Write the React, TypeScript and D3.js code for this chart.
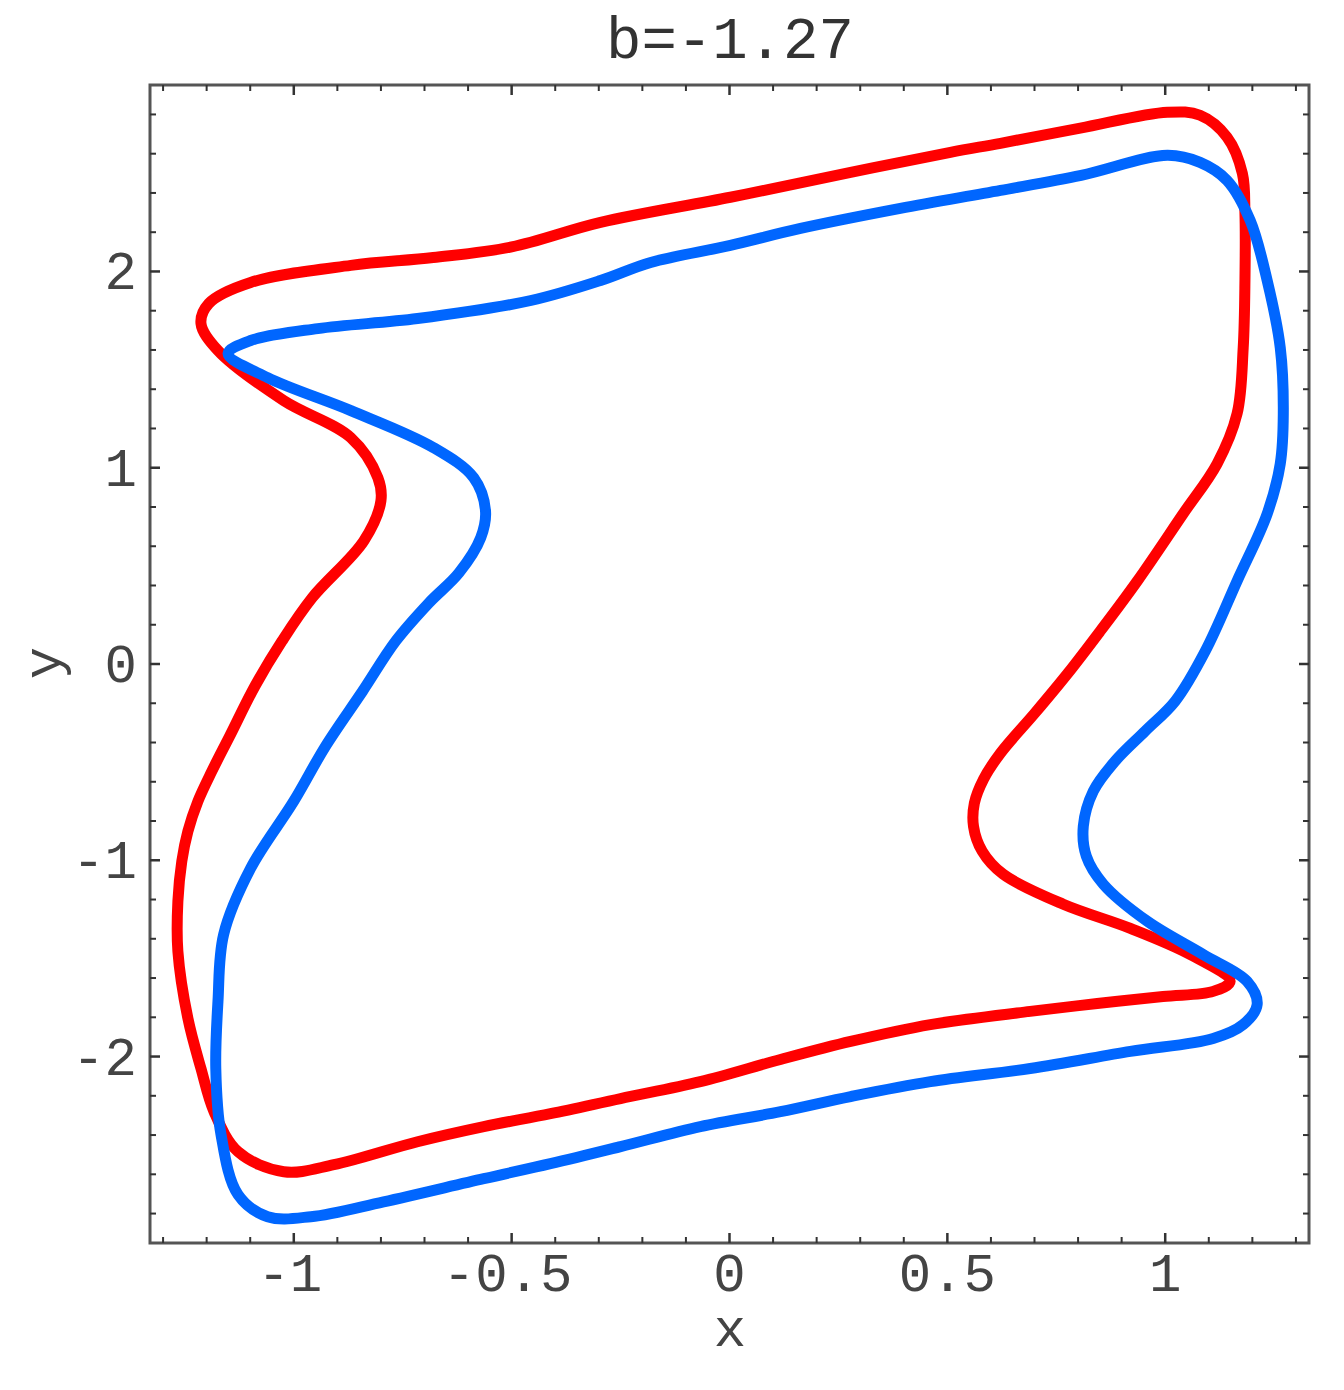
import React from "react";
import * as d3 from "d3";

const TITLE = "b=-1.27";
const X_MAJOR = [-1, -0.5, 0, 0.5, 1];
const X_LABELS = ["-1", "-0.5", "0", "0.5", "1"];
const Y_MAJOR = [-2, -1, 0, 1, 2];
const Y_LABELS = ["-2", "-1", "0", "1", "2"];

// red closed curve (data coordinates)
const redX = [-1.213,-1.195,-1.099,-0.869,-0.680,-0.500,-0.296,0.002,0.278,0.507,0.622,0.805,1.005,1.080,1.142,1.177,1.183,1.183,1.179,1.165,1.119,1.041,0.936,0.851,0.777,0.701,0.622,0.583,0.562,0.560,0.580,0.628,0.766,0.920,1.057,1.149,1.110,0.995,0.844,0.690,0.461,0.278,0.117,-0.067,-0.250,-0.411,-0.564,-0.716,-0.908,-1.023,-1.128,-1.183,-1.213,-1.243,-1.266,-1.266,-1.257,-1.243,-1.220,-1.188,-1.147,-1.089,-1.027,-0.958,-0.839,-0.800,-0.807,-0.869,-1.023,-1.174];
const redY = [1.735,1.837,1.944,2.031,2.071,2.125,2.250,2.378,2.505,2.607,2.653,2.730,2.811,2.796,2.684,2.500,2.296,1.954,1.612,1.276,1.020,0.765,0.423,0.168,-0.046,-0.250,-0.454,-0.587,-0.709,-0.827,-0.954,-1.071,-1.224,-1.347,-1.480,-1.617,-1.668,-1.694,-1.730,-1.770,-1.837,-1.923,-2.015,-2.128,-2.214,-2.291,-2.357,-2.434,-2.551,-2.587,-2.485,-2.281,-2.061,-1.806,-1.464,-1.209,-1.005,-0.852,-0.699,-0.546,-0.367,-0.112,0.117,0.337,0.628,0.832,0.949,1.153,1.342,1.597];

// blue closed curve (data coordinates)
const blueX = [-1.151,-1.099,-0.945,-0.716,-0.456,-0.296,-0.181,0.002,0.163,0.392,0.622,0.807,1.005,1.080,1.142,1.195,1.234,1.264,1.271,1.264,1.234,1.165,1.092,1.023,0.954,0.885,0.835,0.812,0.819,0.858,0.959,1.087,1.188,1.211,1.179,1.110,0.920,0.690,0.461,0.278,0.117,-0.067,-0.250,-0.411,-0.564,-0.794,-0.961,-1.060,-1.128,-1.167,-1.179,-1.174,-1.161,-1.099,-1.000,-0.927,-0.842,-0.766,-0.690,-0.621,-0.571,-0.560,-0.587,-0.679,-0.869,-1.060];
const blueY = [1.582,1.648,1.709,1.760,1.852,1.954,2.046,2.133,2.219,2.321,2.413,2.490,2.592,2.556,2.464,2.260,1.954,1.612,1.276,1.020,0.765,0.423,0.066,-0.189,-0.342,-0.495,-0.648,-0.827,-0.980,-1.122,-1.311,-1.480,-1.617,-1.735,-1.837,-1.908,-1.974,-2.061,-2.128,-2.204,-2.281,-2.357,-2.459,-2.546,-2.622,-2.740,-2.816,-2.816,-2.704,-2.398,-2.061,-1.719,-1.378,-1.041,-0.699,-0.418,-0.138,0.117,0.311,0.464,0.643,0.781,0.949,1.102,1.291,1.459];

const W = 1344;
const H = 1390;
const L = 150, R = 1309, T = 85, B = 1243;

export default function App() {
  const x = d3.scaleLinear().domain([-1.33, 1.33]).range([L, R]);
  const y = d3.scaleLinear().domain([-2.95, 2.95]).range([B, T]);

  const mk = (xs: number[], ys: number[]) =>
    d3
      .line<[number, number]>()
      .x((d) => x(d[0]))
      .y((d) => y(d[1]))
      .curve(d3.curveCatmullRomClosed.alpha(0.5))(xs.map((v, i) => [v, ys[i]] as [number, number])) || "";

  const redPath = mk(redX, redY);
  const bluePath = mk(blueX, blueY);

  const xMinor = d3.range(-13, 14).map((k) => k / 10).filter((v) => Math.abs(v * 2 - Math.round(v * 2)) > 1e-6);
  const yMinor = d3.range(-14, 15).map((k) => k / 5).filter((v) => Math.abs(v - Math.round(v)) > 1e-6);

  const font = "'Liberation Mono', 'DejaVu Sans Mono', monospace";
  const tickColor = "#333";
  const MAJ = 10, MIN = 6;

  return (
    <svg width={W} height={H} style={{ position: "absolute", left: 0, top: 0, background: "#fff" }}>
      <rect x={0} y={0} width={W} height={H} fill="#fff" />
      <text x={730} y={58} textAnchor="middle" fontFamily={font} fontSize={59} fill="#333">{TITLE}</text>

      <path d={redPath} fill="none" stroke="#ff0000" strokeWidth={11} strokeLinejoin="round" />
      <path d={bluePath} fill="none" stroke="#0066ff" strokeWidth={11} strokeLinejoin="round" />

      <rect x={L} y={T} width={R - L} height={B - T} fill="none" stroke="#555" strokeWidth={3} />

      {X_MAJOR.map((v) => (
        <g key={"xm" + v}>
          <line x1={x(v)} x2={x(v)} y1={B} y2={B - MAJ} stroke={tickColor} strokeWidth={2.5} />
          <line x1={x(v)} x2={x(v)} y1={T} y2={T + MAJ} stroke={tickColor} strokeWidth={2.5} />
        </g>
      ))}
      {xMinor.map((v) => (
        <g key={"xn" + v}>
          <line x1={x(v)} x2={x(v)} y1={B} y2={B - MIN} stroke={tickColor} strokeWidth={2} />
          <line x1={x(v)} x2={x(v)} y1={T} y2={T + MIN} stroke={tickColor} strokeWidth={2} />
        </g>
      ))}
      {Y_MAJOR.map((v) => (
        <g key={"ym" + v}>
          <line y1={y(v)} y2={y(v)} x1={L} x2={L + MAJ} stroke={tickColor} strokeWidth={2.5} />
          <line y1={y(v)} y2={y(v)} x1={R} x2={R - MAJ} stroke={tickColor} strokeWidth={2.5} />
        </g>
      ))}
      {yMinor.map((v) => (
        <g key={"yn" + v}>
          <line y1={y(v)} y2={y(v)} x1={L} x2={L + MIN} stroke={tickColor} strokeWidth={2} />
          <line y1={y(v)} y2={y(v)} x1={R} x2={R - MIN} stroke={tickColor} strokeWidth={2} />
        </g>
      ))}

      {X_MAJOR.map((v, i) => (
        <text key={"xl" + v} x={x(v) - (v < 0 ? 4 : 0)} y={1291} textAnchor="middle" fontFamily={font} fontSize={54} fill="#444">
          {X_LABELS[i]}
        </text>
      ))}
      {Y_MAJOR.map((v, i) => (
        <text key={"yl" + v} x={137} y={y(v) + 18} textAnchor="end" fontFamily={font} fontSize={54} fill="#444">
          {Y_LABELS[i]}
        </text>
      ))}

      <text x={730} y={1346} textAnchor="middle" fontFamily={font} fontSize={54} fill="#444">x</text>
      <text transform={`translate(60,663) rotate(-90)`} textAnchor="middle" fontFamily={font} fontSize={54} fill="#444">y</text>
    </svg>
  );
}
